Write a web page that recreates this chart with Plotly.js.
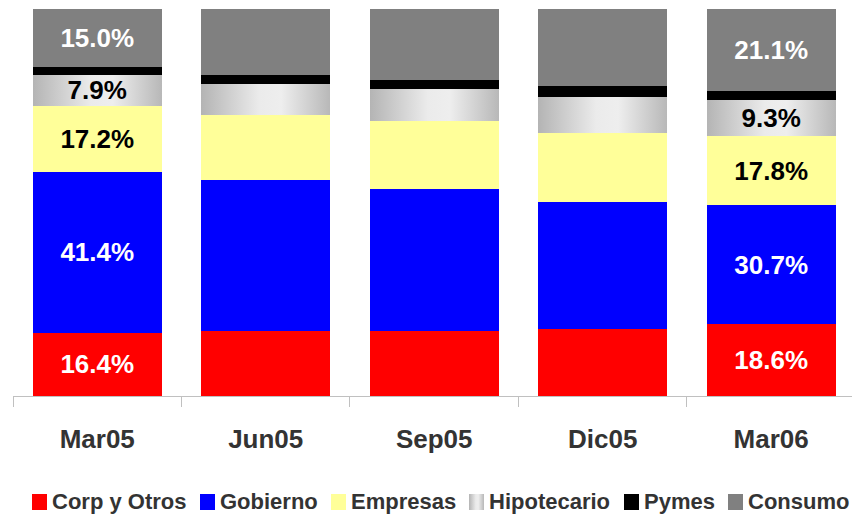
<!DOCTYPE html>
<html>
<head>
<meta charset="utf-8">
<script src="https://cdn.plot.ly/plotly-3.0.1.min.js"></script>
<style>
  html, body { margin: 0; padding: 0; background: #fff; }
  #chart { width: 852px; height: 517px; }
</style>
</head>
<body>
<div id="chart"></div>
<script>
//Data (share of portfolio, %)
const periods = ["Mar05", "Jun05", "Sep05", "Dic05", "Mar06"];
const seriesNames = ["Corp y Otros", "Gobierno", "Empresas", "Hipotecario", "Pymes", "Consumo"];
const corp = [16.4, 16.8, 16.8, 17.3, 18.6];
const gobierno = [41.4, 39.0, 36.7, 32.8, 30.7];
const empresas = [17.2, 16.8, 17.6, 17.8, 17.8];
const hipotecario = [7.9, 8.0, 8.3, 9.3, 9.3];
const pymes = [2.1, 2.3, 2.3, 2.8, 2.5];
const consumo = [15.0, 17.1, 18.3, 20.0, 21.1];
const labeledPeriods = [0, 4];

//Styles
const colors = ["#ff0000", "#0000ff", "#ffff99", "#d9d9d9", "#000000", "#808080"];
const labelColors = ["#ffffff", "#ffffff", "#000000", "#000000", "#ffffff", "#ffffff"];
const showLabels = [true, true, true, true, false, true];
const FONT = "Liberation Sans, Arial, sans-serif";

const values = [corp, gobierno, empresas, hipotecario, pymes, consumo];

const traces = values.map((vals, i) => ({
  type: "bar",
  name: seriesNames[i],
  x: periods,
  y: vals,
  marker: { color: colors[i], line: { width: 0 } },
  text: vals.map((v, j) => (showLabels[i] && labeledPeriods.includes(j)) ? v.toFixed(1) + "%" : ""),
  textposition: "inside",
  insidetextanchor: "middle",
  constraintext: "none",
  textangle: 0,
  textfont: { family: FONT, size: 26, weight: "bold", color: labelColors[i] },
  hoverinfo: "none"
}));

//Legend drawn below the chart (pixel positions converted to paper coords)
const plotL = 13, plotW = 839, plotBottom = 396, plotH = 387;
const swatchX = [32, 200, 331, 469, 624, 728];
const px2x = px => (px - plotL) / plotW;
const py2y = py => (plotBottom - py) / plotH;

const shapes = seriesNames.map((n, i) => ({
  type: "rect", xref: "paper", yref: "paper",
  x0: px2x(swatchX[i]), x1: px2x(swatchX[i] + 15),
  y0: py2y(510), y1: py2y(494),
  fillcolor: colors[i], line: { width: 0 }
}));

const annotations = seriesNames.map((n, i) => ({
  text: n, xref: "paper", yref: "paper",
  x: px2x(swatchX[i] + 18), xanchor: "left",
  y: py2y(502), yanchor: "middle",
  showarrow: false,
  font: { family: FONT, size: 22, weight: "bold", color: "#333333" }
}));

const layout = {
  width: 852,
  height: 517,
  margin: { l: plotL, r: 0, t: 9, b: 121 },
  barmode: "stack",
  bargap: 0.234,
  showlegend: false,
  paper_bgcolor: "#ffffff",
  plot_bgcolor: "#ffffff",
  xaxis: {
    type: "category",
    range: [-0.5, 4.48],
    tickson: "boundaries",
    ticks: "outside",
    ticklen: 10,
    tickcolor: "#c0c0c0",
    showline: true,
    linecolor: "#c0c0c0",
    linewidth: 1,
    showgrid: false,
    ticklabelstandoff: 20,
    tickfont: { family: FONT, size: 26, weight: "bold", color: "#333333" }
  },
  yaxis: { range: [0, 100], visible: false, showgrid: false, zeroline: false },
  shapes: shapes,
  annotations: annotations
};

//Silver gradient for the Hipotecario segments
function applyGradient(gd) {
  const ns = "http://www.w3.org/2000/svg";
  const defs = gd.querySelector(".main-svg defs");
  const grad = document.createElementNS(ns, "linearGradient");
  grad.setAttribute("id", "hipGrad");
  grad.setAttribute("x1", "0"); grad.setAttribute("x2", "1");
  grad.setAttribute("y1", "0"); grad.setAttribute("y2", "0");
  [[0, "#b4b4b4"], [0.45, "#ebebeb"], [0.62, "#eeeeee"], [1, "#b8b8b8"]].forEach(s => {
    const stop = document.createElementNS(ns, "stop");
    stop.setAttribute("offset", s[0]);
    stop.setAttribute("stop-color", s[1]);
    grad.appendChild(stop);
  });
  defs.appendChild(grad);
  const hipTrace = gd.querySelectorAll(".barlayer .trace")[3];
  if (hipTrace) hipTrace.querySelectorAll(".point path").forEach(p => { p.style.fill = "url(#hipGrad)"; });
  gd.querySelectorAll('.shapelayer path[data-index="3"]').forEach(p => { p.style.fill = "url(#hipGrad)"; });
}

Plotly.newPlot("chart", traces, layout, { staticPlot: true, displayModeBar: false })
  .then(applyGradient);
</script>
</body>
</html>
